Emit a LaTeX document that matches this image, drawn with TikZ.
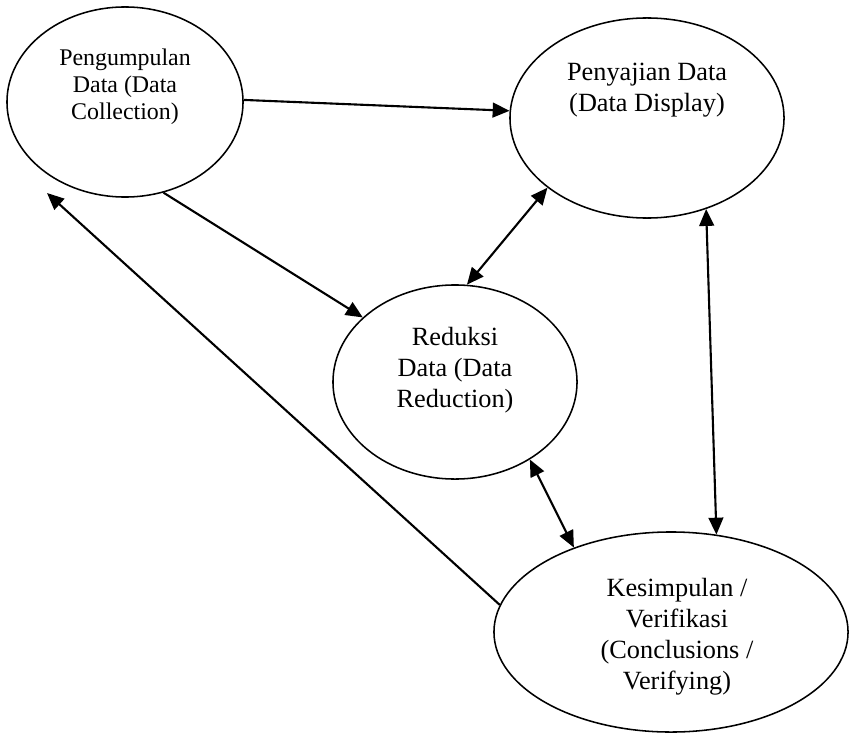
\documentclass[tikz,border=0pt]{standalone}
\usepackage{fontspec}
\setmainfont{Liberation Serif}
\usetikzlibrary{shapes.geometric,arrows.meta,calc}

\begin{document}
\begin{tikzpicture}[x=0.025cm,y=-0.025cm,
    every node/.style={font=\fontsize{18.7}{22}\selectfont},
    tahap/.style={ellipse,draw,line width=1.1pt,inner sep=0pt},
    teks/.style={align=center,inner sep=0pt},
    panah/.style={line width=1.5pt,-{Triangle[length=12pt,width=10.5pt]}},
    panahdua/.style={line width=1.5pt,{Triangle[length=12pt,width=10.5pt]}-{Triangle[length=12pt,width=10.5pt]}}]

    % 画布大小
    \useasboundingbox (0,0) rectangle (852,735);

    % 四个椭圆
    \node[tahap,minimum width=5.9cm,minimum height=4.75cm] (kumpul) at (125,102) {};
    \node[tahap,minimum width=6.85cm,minimum height=5cm] (saji) at (647,118) {};
    \node[tahap,minimum width=6.1cm,minimum height=4.85cm] (reduksi) at (455,382) {};
    \node[tahap,minimum width=8.85cm,minimum height=5cm] (simpul) at (671,632) {};

    % 椭圆内文字
    \node[teks,font=\fontsize{17}{19.2}\selectfont] (tkumpul) at (125,87) {Pengumpulan\\Data (Data\\Collection)};
    \node[teks] (tsaji) at (647,90) {Penyajian Data\\(Data Display)};
    \node[teks] (treduksi) at (455,370) {Reduksi\\Data (Data\\Reduction)};
    \node[teks] (tsimpul) at (677,637) {Kesimpulan /\\Verifikasi\\(Conclusions /\\Verifying)};

    % 单向箭头
    \draw[panah] (kumpul.1) -- (saji.177);
    \draw[panah] (kumpul.-67) -- (reduksi.145);
    \draw[panah] (simpul.171) -- ($(kumpul.center)+(-78,91)$);

    % 双向箭头
    \draw[panahdua] (saji.215) -- (reduksi.83);
    \draw[panahdua] (saji.-57) -- (simpul.65);
    \draw[panahdua] (reduksi.-46) -- (simpul.139);

\end{tikzpicture}
\end{document}
